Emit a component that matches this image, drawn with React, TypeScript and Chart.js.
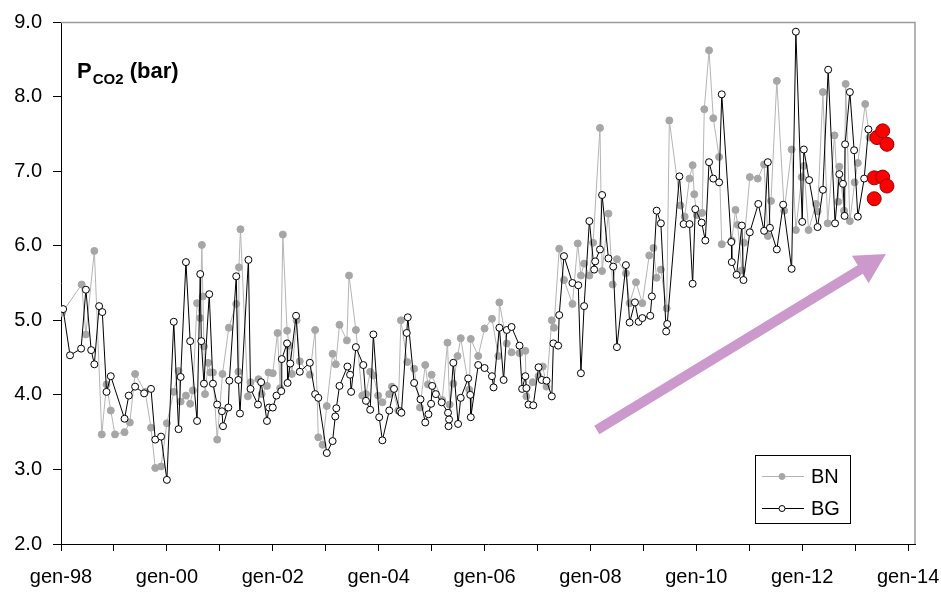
import React, { useEffect, useRef } from "react";
import { Chart, registerables } from "chart.js";

Chart.register(...registerables);

// ---- Data (decimal years, bar) ----
const bnDates = [
  1998.02, 1998.39, 1998.47, 1998.63, 1998.77, 1998.86, 1998.94, 1999.02, 1999.2, 1999.3,
  1999.4, 1999.59, 1999.7, 1999.78, 1999.89, 2000.0, 2000.13, 2000.22, 2000.26, 2000.36,
  2000.44, 2000.49, 2000.57, 2000.63, 2000.66, 2000.68, 2000.7, 2000.72, 2000.78, 2000.82,
  2000.87, 2000.95, 2001.05, 2001.17, 2001.31, 2001.35, 2001.36, 2001.39, 2001.53, 2001.58,
  2001.73, 2001.79, 2001.89, 2001.92, 2002.0, 2002.09, 2002.14, 2002.19, 2002.27, 2002.31,
  2002.36, 2002.45, 2002.51, 2002.7, 2002.8, 2002.86, 2002.94, 2003.02, 2003.13, 2003.19,
  2003.26, 2003.4, 2003.44, 2003.57, 2003.69, 2003.76, 2003.84, 2003.9, 2003.99, 2004.07,
  2004.2, 2004.25, 2004.37, 2004.42, 2004.54, 2004.67, 2004.78, 2004.88, 2004.93, 2005.0,
  2005.2, 2005.3, 2005.34, 2005.41, 2005.49, 2005.55, 2005.71, 2005.74, 2005.88, 2006.0,
  2006.14, 2006.26, 2006.28, 2006.42, 2006.51, 2006.66, 2006.77, 2006.79, 2006.91, 2007.02,
  2007.1, 2007.17, 2007.27, 2007.31, 2007.41, 2007.5, 2007.66, 2007.76, 2007.82, 2007.88,
  2007.98, 2008.05, 2008.18, 2008.22, 2008.34, 2008.42, 2008.5, 2008.67, 2008.74, 2008.86,
  2008.98, 2009.11, 2009.19, 2009.25, 2009.33, 2009.44, 2009.49, 2009.7, 2009.78, 2009.87,
  2009.93, 2009.96, 2010.01, 2010.11, 2010.15, 2010.24, 2010.32, 2010.43, 2010.48, 2010.67,
  2010.74, 2010.78, 2010.86, 2010.9, 2011.01, 2011.16, 2011.28, 2011.35, 2011.41, 2011.52,
  2011.66, 2011.8, 2011.88, 2011.99, 2012.03, 2012.12, 2012.26, 2012.29, 2012.39, 2012.48,
  2012.61, 2012.68, 2012.7, 2012.79, 2012.82, 2012.9, 2012.99, 2013.05, 2013.19, 2013.27,
];
const bnValues = [
  5.1, 5.48, 4.81, 5.93, 3.47, 4.14, 3.79, 3.47, 3.5, 3.63,
  4.28, 4.04, 3.56, 3.02, 3.04, 3.62, 4.04, 4.32, 3.91, 3.99,
  3.88, 4.06, 5.23, 5.03, 6.01, 5.32, 4.65, 4.01, 4.43, 4.3,
  4.3, 3.4, 4.28, 4.9, 5.22, 4.31, 5.71, 6.22, 3.98, 4.17,
  4.21, 4.01, 4.12, 4.3, 4.29, 4.83, 4.09, 6.15, 4.86, 4.66,
  4.28, 5.0, 4.45, 4.27, 4.87, 3.43, 3.33, 3.85, 4.55, 4.41,
  4.94, 4.73, 5.6, 4.87, 3.99, 4.01, 4.31, 4.26, 3.99, 3.9,
  4.01, 4.11, 3.79, 5.0, 4.44, 4.35, 3.83, 4.4, 4.14, 4.27,
  3.93, 4.7, 3.87, 4.15, 4.52, 4.76, 4.07, 4.75, 4.52, 4.89,
  5.02, 4.52, 5.24, 4.69, 4.57, 4.56, 4.59, 3.98, 4.17, 4.25,
  4.38, 4.11, 5.0, 4.9, 5.96, 5.54, 5.22, 6.03, 5.6, 5.76,
  5.6, 6.04, 7.58, 5.66, 6.43, 5.48, 5.82, 5.63, 5.23, 5.51,
  5.23, 5.87, 5.97, 5.57, 5.68, 5.16, 7.68, 6.54, 6.39, 6.9,
  7.08, 6.69, 6.41, 6.44, 7.83, 8.62, 7.71, 7.19, 6.02, 6.07,
  6.48, 6.28, 5.67, 6.04, 6.92, 6.9, 7.09, 6.13, 6.6, 8.21,
  6.47, 7.29, 6.21, 6.92, 7.07, 6.21, 6.56, 6.46, 8.06, 6.3,
  7.48, 6.59, 7.06, 6.47, 8.17, 6.33, 6.85, 7.11, 7.9, 7.45,
];

const bgDates = [
  1998.04, 1998.17, 1998.38, 1998.47, 1998.57, 1998.63, 1998.72, 1998.78, 1998.86, 1998.94,
  1999.2, 1999.28, 1999.4, 1999.57, 1999.7, 1999.78, 1999.89, 2000.0, 2000.13, 2000.22,
  2000.26, 2000.36, 2000.44, 2000.57, 2000.63, 2000.65, 2000.7, 2000.8, 2000.87, 2000.95,
  2001.04, 2001.06, 2001.16, 2001.18, 2001.31, 2001.35, 2001.38, 2001.54, 2001.58, 2001.72,
  2001.78, 2001.89, 2001.93, 2002.0, 2002.07, 2002.16, 2002.17, 2002.27, 2002.28, 2002.33,
  2002.44, 2002.51, 2002.7, 2002.8, 2002.86, 2003.02, 2003.13, 2003.18, 2003.2, 2003.26,
  2003.41, 2003.46, 2003.48, 2003.57, 2003.71, 2003.76, 2003.84, 2003.9, 2004.01, 2004.07,
  2004.2, 2004.29, 2004.4, 2004.43, 2004.53, 2004.55, 2004.67, 2004.79, 2004.88, 2004.94,
  2004.99, 2005.01, 2005.08, 2005.19, 2005.31, 2005.32, 2005.33, 2005.41, 2005.5, 2005.55,
  2005.69, 2005.73, 2005.74, 2005.88, 2006.0, 2006.14, 2006.17, 2006.28, 2006.36, 2006.42,
  2006.51, 2006.66, 2006.71, 2006.77, 2006.79, 2006.83, 2006.92, 2007.02, 2007.08, 2007.17,
  2007.27, 2007.3, 2007.39, 2007.41, 2007.5, 2007.66, 2007.77, 2007.82, 2007.88, 2007.98,
  2008.07, 2008.09, 2008.18, 2008.22, 2008.34, 2008.43, 2008.5, 2008.67, 2008.74, 2008.84,
  2008.91, 2008.98, 2009.13, 2009.16, 2009.25, 2009.33, 2009.43, 2009.45, 2009.68, 2009.76,
  2009.87, 2009.93, 2009.98, 2010.1, 2010.17, 2010.24, 2010.32, 2010.43, 2010.48, 2010.66,
  2010.67, 2010.76, 2010.86, 2010.89, 2011.01, 2011.17, 2011.28, 2011.35, 2011.39, 2011.52,
  2011.64, 2011.8, 2011.88, 2012.0, 2012.03, 2012.13, 2012.29, 2012.39, 2012.49, 2012.62,
  2012.7, 2012.77, 2012.8, 2012.81, 2012.9, 2012.98, 2013.05, 2013.17, 2013.25,
];
const bgValues = [
  5.15, 4.53, 4.62, 5.41, 4.6, 4.41, 5.19, 5.11, 4.04, 4.25,
  3.68, 3.99, 4.11, 4.02, 4.08, 3.4, 3.44, 2.86, 4.98, 3.54,
  4.24, 5.78, 4.72, 3.65, 5.62, 4.72, 4.15, 5.35, 4.15, 3.87,
  3.78, 3.58, 3.83, 4.19, 5.59, 4.2, 3.75, 5.81, 4.08, 3.87,
  4.17, 3.65, 3.83, 3.83, 3.99, 4.05, 4.48, 4.69, 4.16, 4.42,
  5.06, 4.31, 4.43, 4.01, 3.96, 3.22, 3.38, 3.71, 3.82, 4.12,
  4.38, 4.27, 4.04, 4.64, 4.4, 3.92, 3.8, 4.81, 3.7, 3.39,
  3.79, 4.08, 3.78, 3.76, 4.83, 5.04, 4.16, 3.94, 3.63, 3.74,
  3.88, 4.12, 4.01, 3.9, 3.76, 3.58, 3.67, 4.43, 3.61, 3.96,
  4.22, 4.0, 3.7, 4.4, 4.36, 4.25, 4.1, 4.9, 4.2, 4.87,
  4.91, 4.66, 4.08, 4.25, 4.09, 3.87, 3.86, 4.37, 4.2, 4.19,
  3.98, 4.69, 4.66, 5.07, 5.86, 5.5, 5.47, 4.29, 5.19, 6.33,
  5.68, 5.79, 5.95, 6.68, 5.83, 5.72, 4.64, 5.74, 4.97, 5.24,
  4.98, 5.03, 5.06, 5.32, 6.47, 6.3, 4.85, 4.95, 6.93, 6.29,
  6.29, 5.49, 6.49, 6.31, 6.07, 7.12, 6.9, 6.85, 8.03, 6.05,
  5.78, 5.61, 6.27, 5.54, 6.18, 6.56, 6.2, 7.12, 6.24, 5.95,
  6.55, 5.69, 8.87, 6.32, 7.29, 6.88, 6.25, 6.75, 8.36, 6.3,
  6.96, 6.83, 6.4, 7.36, 8.06, 7.28, 6.39, 6.9, 7.56,
];

const redDates = [2013.36, 2013.41, 2013.52, 2013.6, 2013.36, 2013.52, 2013.6];
const redValues = [6.63, 7.45, 7.54, 7.36, 6.91, 6.92, 6.8];

const xTickYears = [1998, 1999, 2000, 2001, 2002, 2003, 2004, 2005, 2006, 2007, 2008, 2009, 2010, 2011, 2012, 2013, 2014];
const xTickLabels = ["gen-98", "", "gen-00", "", "gen-02", "", "gen-04", "", "gen-06", "", "gen-08", "", "gen-10", "", "gen-12", "", "gen-14"];
const yTickLabels = ["2.0", "3.0", "4.0", "5.0", "6.0", "7.0", "8.0", "9.0"];
const seriesNames = ["BN", "BG"];

// trend arrow, in data units (start year/value -> tip year/value)
const arrowYears = [2008.12, 2013.58];
const arrowValues = [3.53, 5.89];

const FONT = "'Liberation Sans', Arial, sans-serif";

const toPoints = (xs: number[], ys: number[]) => xs.map((x, i) => ({ x, y: ys[i] }));

const decorPlugin = {
  id: "decor",
  beforeDatasetsDraw(chart: any) {
    const { ctx } = chart;
    const xs = chart.scales.x;
    const ys = chart.scales.y;
    const x0 = xs.getPixelForValue(arrowYears[0]);
    const y0 = ys.getPixelForValue(arrowValues[0]);
    const x1 = xs.getPixelForValue(arrowYears[1]);
    const y1 = ys.getPixelForValue(arrowValues[1]);
    const dx = x1 - x0, dy = y1 - y0;
    const len = Math.hypot(dx, dy);
    const ux = dx / len, uy = dy / len;
    const px = -uy, py = ux;
    const headLen = 30, headW = 16, shaftW = 5;
    const bx = x1 - ux * headLen, by = y1 - uy * headLen;
    ctx.save();
    ctx.fillStyle = "rgb(204,153,204)";
    ctx.beginPath();
    ctx.moveTo(x0 + px * shaftW, y0 + py * shaftW);
    ctx.lineTo(bx + px * shaftW, by + py * shaftW);
    ctx.lineTo(bx + px * headW, by + py * headW);
    ctx.lineTo(x1, y1);
    ctx.lineTo(bx - px * headW, by - py * headW);
    ctx.lineTo(bx - px * shaftW, by - py * shaftW);
    ctx.lineTo(x0 - px * shaftW, y0 - py * shaftW);
    ctx.closePath();
    ctx.fill();
    ctx.restore();
  },
  afterDraw(chart: any) {
    const { ctx, chartArea } = chart;
    ctx.save();
    // top & right frame lines
    ctx.strokeStyle = "#9a9a9a";
    ctx.lineWidth = 1.5;
    ctx.beginPath();
    ctx.moveTo(chartArea.left, chartArea.top + 0.5);
    ctx.lineTo(chartArea.right, chartArea.top + 0.5);
    ctx.lineTo(chartArea.right, chartArea.bottom);
    ctx.stroke();

    // title
    ctx.fillStyle = "#000";
    ctx.textBaseline = "alphabetic";
    ctx.textAlign = "left";
    ctx.font = `bold 22px ${FONT}`;
    ctx.fillText("P", 77, 78);
    const pw = ctx.measureText("P").width;
    ctx.font = `bold 15px ${FONT}`;
    ctx.fillText("CO2", 77 + pw + 1, 84);
    const sw = ctx.measureText("CO2").width;
    ctx.font = `bold 22px ${FONT}`;
    ctx.fillText(" (bar)", 77 + pw + 1 + sw, 78);

    // legend
    const lx = 755, ly = 455, lw = 95, lh = 68;
    ctx.fillStyle = "#fff";
    ctx.fillRect(lx, ly, lw, lh);
    ctx.strokeStyle = "#000";
    ctx.lineWidth = 1;
    ctx.strokeRect(lx + 0.5, ly + 0.5, lw, lh);
    const rows = [
      { name: seriesNames[0], y: 476, line: "#b4b4b4", fill: "#a6a6a6", stroke: "#a6a6a6" },
      { name: seriesNames[1], y: 508, line: "#000", fill: "#fff", stroke: "#000" },
    ];
    rows.forEach((r) => {
      ctx.strokeStyle = r.line;
      ctx.lineWidth = 1;
      ctx.beginPath();
      ctx.moveTo(762, r.y + 0.5);
      ctx.lineTo(804, r.y + 0.5);
      ctx.stroke();
      ctx.beginPath();
      ctx.arc(782, r.y + 0.5, 3, 0, Math.PI * 2);
      ctx.fillStyle = r.fill;
      ctx.fill();
      ctx.strokeStyle = r.stroke;
      ctx.stroke();
      ctx.fillStyle = "#000";
      ctx.font = `20px ${FONT}`;
      ctx.textBaseline = "middle";
      ctx.fillText(r.name, 811, r.y + 1);
    });
    ctx.restore();
  },
};

export default function App() {
  const ref = useRef<HTMLCanvasElement | null>(null);
  useEffect(() => {
    if (!ref.current) return;
    const chart = new Chart(ref.current, {
      type: "line",
      data: {
        datasets: [
          {
            label: "red",
            data: toPoints(redDates, redValues),
            showLine: false,
            pointRadius: 7,
            pointBackgroundColor: "#ff0000",
            pointBorderColor: "#990000",
            pointBorderWidth: 1,
            order: 1,
          },
          {
            label: seriesNames[1],
            data: toPoints(bgDates, bgValues),
            borderColor: "#000",
            borderWidth: 1,
            pointRadius: 3.5,
            pointBackgroundColor: "#fff",
            pointBorderColor: "#000",
            pointBorderWidth: 1,
            order: 2,
          },
          {
            label: seriesNames[0],
            data: toPoints(bnDates, bnValues),
            borderColor: "#b4b4b4",
            borderWidth: 1,
            pointRadius: 3.5,
            pointBackgroundColor: "#a6a6a6",
            pointBorderColor: "#a6a6a6",
            pointBorderWidth: 1,
            order: 3,
          },
        ],
      } as any,
      options: {
        animation: false,
        responsive: false,
        devicePixelRatio: 1,
        layout: { padding: { left: 0, top: 22, right: 26, bottom: 0 } },
        plugins: { legend: { display: false }, tooltip: { enabled: false }, title: { display: false } },
        elements: { line: { tension: 0 } },
        scales: {
          x: {
            type: "linear",
            min: 1998,
            max: 2014.13,
            afterBuildTicks: (scale: any) => {
              scale.ticks = xTickYears.map((v) => ({ value: v }));
            },
            afterFit: (scale: any) => {
              scale.height = 48;
              scale.paddingLeft = 0;
              scale.paddingRight = 0;
            },
            ticks: {
              autoSkip: false,
              maxRotation: 0,
              padding: 14,
              color: "#000",
              font: { family: FONT, size: 20 },
              callback: (v: any) => {
                const i = xTickYears.indexOf(Number(v));
                return i >= 0 ? xTickLabels[i] : "";
              },
            },
            grid: { drawOnChartArea: false, drawTicks: true, tickLength: 7, color: "#000", lineWidth: 1 },
            border: { display: true, color: "#000", width: 1 },
          },
          y: {
            type: "linear",
            min: 2,
            max: 9,
            afterBuildTicks: (scale: any) => {
              scale.ticks = yTickLabels.map((t) => ({ value: parseFloat(t) }));
            },
            afterFit: (scale: any) => {
              scale.width = 61;
              scale.paddingTop = 0;
              scale.paddingBottom = 0;
            },
            ticks: {
              padding: 11,
              color: "#000",
              font: { family: FONT, size: 20 },
              callback: (v: any) => Number(v).toFixed(1),
            },
            grid: { drawOnChartArea: false, drawTicks: true, tickLength: 8, color: "#000", lineWidth: 1 },
            border: { display: true, color: "#000", width: 1 },
          },
        },
      } as any,
      plugins: [decorPlugin],
    });
    return () => chart.destroy();
  }, []);
  return (
    <div style={{ position: "absolute", left: 0, top: 0, width: 941, height: 592, background: "#fff" }}>
      <canvas ref={ref} width={941} height={592} />
    </div>
  );
}
